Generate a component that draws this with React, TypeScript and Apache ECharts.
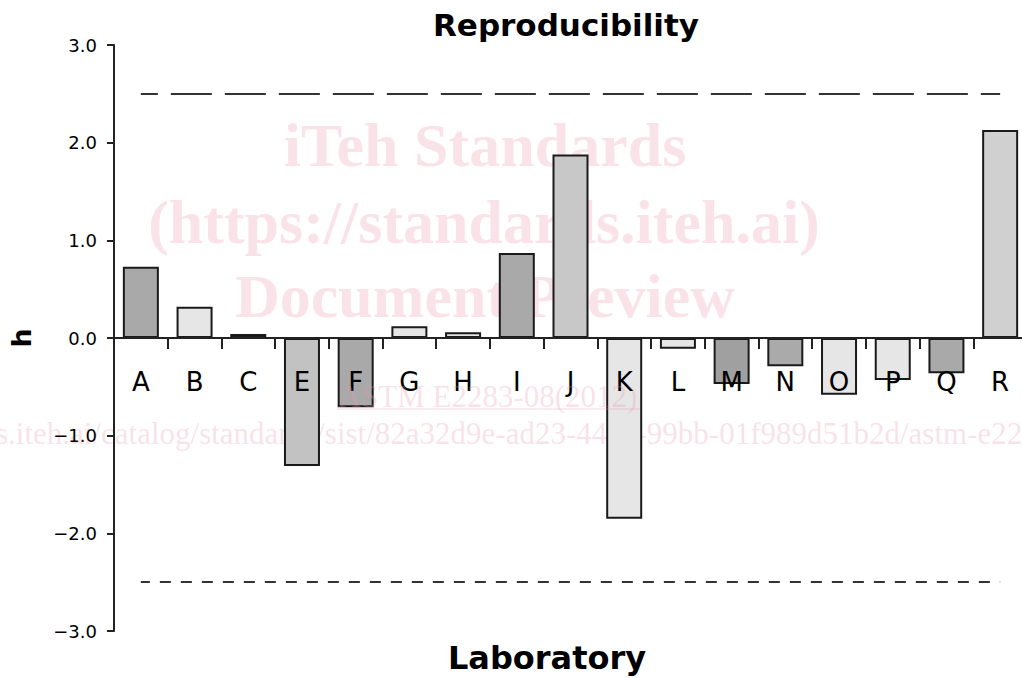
import React, { useEffect, useRef } from "react";
import * as echarts from "echarts";

const categories = ["A", "B", "C", "E", "F", "G", "H", "I", "J", "K", "L", "M", "N", "O", "P", "Q", "R"];
const hValues = [0.73, 0.32, 0.04, -1.31, -0.71, 0.12, 0.06, 0.87, 1.88, -1.85, -0.11, -0.47, -0.29, -0.58, -0.43, -0.36, 2.13];
const upperLimit = 2.5;
const lowerLimit = -2.5;
const yMin = -3;
const yMax = 3;
const yStep = 1;

const barColors = [
  "#a9a9a9", "#e6e6e6", "#e6e6e6", "#c2c2c2", "#a9a9a9", "#e6e6e6", "#e6e6e6", "#a9a9a9", "#c8c8c8",
  "#e6e6e6", "#e6e6e6", "#a0a0a0", "#aaaaaa", "#e6e6e6", "#e6e6e6", "#a9a9a9", "#d0d0d0",
];

const wmColor = "rgba(236, 150, 175, 0.28)";

const GRID_TOP = 45;
const GRID_BOTTOM = 47;
const PLOT_H = 678 - GRID_TOP - GRID_BOTTOM;

export default function App() {
  const ref = useRef<HTMLDivElement>(null);
  useEffect(() => {
    if (!ref.current) return;
    const chart = echarts.init(ref.current, null, { renderer: "svg" });
    const last = categories.length - 1;
    // place the category axis on the zero line (layout offset from grid bottom)
    const zeroOffset = -PLOT_H * (0 - yMin) / (yMax - yMin);
    chart.setOption({
      animation: false,
      backgroundColor: "#ffffff",
      grid: { left: 114, right: -5, top: GRID_TOP, bottom: GRID_BOTTOM, containLabel: false, outerBoundsMode: "none" },
      graphic: [
        {
          type: "text", x: 485, y: 145, z: -1,
          style: { text: "iTeh Standards", font: "bold 62px 'Liberation Serif'", fill: wmColor, align: "center", verticalAlign: "middle" },
        },
        {
          type: "text", x: 484, y: 222, z: -1,
          style: { text: "(https://standards.iteh.ai)", font: "bold 62px 'Liberation Serif'", fill: wmColor, align: "center", verticalAlign: "middle" },
        },
        {
          type: "text", x: 485, y: 296, z: -1,
          style: { text: "Document Preview", font: "bold 62px 'Liberation Serif'", fill: wmColor, align: "center", verticalAlign: "middle" },
        },
        {
          type: "text", x: 488, y: 396, z: 100,
          style: { text: "ASTM E2283-08(2012)", font: "31px 'Liberation Serif'", fill: wmColor, align: "center", verticalAlign: "middle" },
        },
        {
          type: "line", z: 100,
          shape: { x1: 337, y1: 409, x2: 640, y2: 409 },
          style: { stroke: wmColor, lineWidth: 1.5 },
        },
        {
          type: "text", x: -4, y: 433, z: -1,
          style: { text: "s.iteh.ai/catalog/standards/sist/82a32d9e-ad23-44e5-99bb-01f989d51b2d/astm-e22", font: "31px 'Liberation Serif'", fill: wmColor, align: "left", verticalAlign: "middle" },
        },
        {
          type: "text", x: 566, y: 25,
          style: { text: "Reproducibility", font: "bold 31px 'DejaVu Sans'", fill: "#000", align: "center", verticalAlign: "middle" },
        },
        {
          type: "text", x: 547, y: 658,
          style: { text: "Laboratory", font: "bold 32px 'DejaVu Sans'", fill: "#000", align: "center", verticalAlign: "middle" },
        },
      ],
      xAxis: {
        type: "category",
        data: categories,
        z: 10,
        offset: zeroOffset,
        axisLine: { show: true, onZero: false, lineStyle: { color: "#222", width: 2 } },
        axisTick: { show: true, length: 11, lineStyle: { color: "#222", width: 2 } },
        axisLabel: { margin: 31, fontSize: 26, color: "#000", fontFamily: "DejaVu Sans" },
        splitLine: { show: false },
      },
      yAxis: {
        type: "value",
        min: yMin,
        max: yMax,
        interval: yStep,
        name: "h",
        nameLocation: "middle",
        nameGap: 79,
        nameRotate: 90,
        nameTextStyle: { fontSize: 27, fontWeight: "bold", color: "#000", fontFamily: "DejaVu Sans" },
        axisLine: { show: true, lineStyle: { color: "#222", width: 2 } },
        axisTick: { show: true, length: 7, lineStyle: { color: "#222", width: 2 } },
        axisLabel: {
          margin: 17,
          fontSize: 18,
          color: "#000",
          fontFamily: "DejaVu Sans",
          formatter: (v: number) => (v < 0 ? "\u2212" : "") + Math.abs(v).toFixed(1),
        },
        splitLine: { show: false },
      },
      series: [
        {
          type: "bar",
          data: hValues.map((v, i) => ({ value: v, itemStyle: { color: barColors[i] } })),
          barWidth: 36,
          itemStyle: { borderColor: "#1a1a1a", borderWidth: 2 },
          z: 5,
          markLine: {
            silent: true,
            symbol: "none",
            label: { show: false },
            data: [
              [
                { coord: [0, upperLimit], lineStyle: { type: [41, 13], dashOffset: 24, color: "#333", width: 2 } },
                { coord: [last, upperLimit] },
              ],
              [
                { coord: [0, lowerLimit], lineStyle: { type: [11, 10], dashOffset: 2, color: "#333", width: 2 } },
                { coord: [last, lowerLimit] },
              ],
            ],
          },
        },
      ],
    });
    return () => chart.dispose();
  }, []);
  return (
    <div
      ref={ref}
      style={{ position: "fixed", left: 0, top: 0, width: 1022, height: 678, background: "#fff" }}
    />
  );
}
